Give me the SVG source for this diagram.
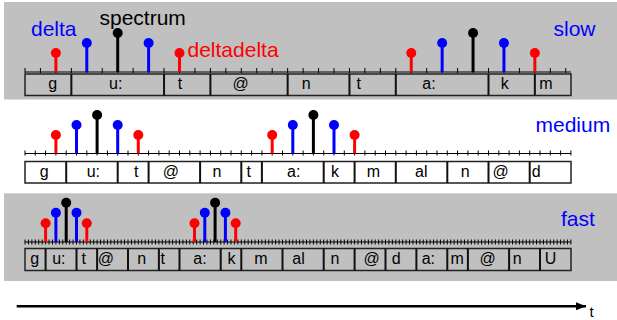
<svg xmlns="http://www.w3.org/2000/svg" width="617" height="320" viewBox="0 0 617 320">
  <defs>
    <style>
      .band { fill: #c0c0c0; }
      .axis { stroke: #000; stroke-width: 1; fill: none; }
      .tick { stroke: #000; fill: none; }
      .seg { fill: none; stroke: #222; stroke-width: 1.5; }
      .div { stroke: #111; stroke-width: 2; fill: none; }
      .ph { font-family: "Liberation Sans", Arial, sans-serif; font-size: 16px; fill: #000; text-anchor: middle; }
      .big { font-family: "Liberation Sans", Arial, sans-serif; font-size: 21px; }
      .blue { fill: #0000ff; }
      .red { fill: #ff0000; }
      .black { fill: #000; }
      .stem-r { stroke: #ff0000; stroke-width: 3; }
      .stem-b { stroke: #0000ff; stroke-width: 3; }
      .stem-k { stroke: #000; stroke-width: 3; }
    </style>
    <marker id="arrowHead" viewBox="0 0 10 8" refX="10" refY="4" markerWidth="10" markerHeight="8" markerUnits="userSpaceOnUse" orient="auto">
      <path d="M0,0 L10,4 L0,8 Z" fill="#000"/>
    </marker>
  </defs>

  <!-- background bands -->
  <rect class="band" x="4" y="2" width="613" height="97.5"/>
  <rect class="band" x="4" y="193.3" width="613" height="87.7"/>

  <!-- slow rate -->
  <g id="slow">
    <line class="axis" x1="25" y1="72" x2="571" y2="72"/>
    <line class="tick" x1="24.5" y1="70.5" x2="566.3" y2="70.5" stroke-width="5" stroke-dasharray="1 14.45"/>
    <rect class="seg" x="25" y="74" width="546" height="21.5"/>
    <path class="div" d="M71.35,74v21.5M164.05,74v21.5M210.4,74v21.5M287.65,74v21.5M349.45,74v21.5M395.8,74v21.5M488.5,74v21.5M534.85,74v21.5"/>
    <g class="ph">
      <text x="52.8" y="89">g</text>
      <text x="115.7" y="89">u:</text>
      <text x="180" y="89">t</text>
      <text x="240.7" y="89">@</text>
      <text x="306.3" y="89">n</text>
      <text x="358.8" y="89">t</text>
      <text x="429" y="89">a:</text>
      <text x="504.7" y="89">k</text>
      <text x="546" y="89">m</text>
    </g>
    <g id="slow-frame1">
      <line class="stem-r" x1="55.9" y1="53" x2="55.9" y2="72"/><circle class="red" cx="55.9" cy="53" r="5"/>
      <line class="stem-b" x1="86.8" y1="43" x2="86.8" y2="72"/><circle class="blue" cx="86.8" cy="43" r="5"/>
      <line class="stem-k" x1="117.7" y1="33" x2="117.7" y2="72"/><circle class="black" cx="117.7" cy="33" r="5"/>
      <line class="stem-b" x1="148.6" y1="43" x2="148.6" y2="72"/><circle class="blue" cx="148.6" cy="43" r="5"/>
      <line class="stem-r" x1="179.5" y1="53" x2="179.5" y2="72"/><circle class="red" cx="179.5" cy="53" r="5"/>
    </g>
    <g id="slow-frame2">
      <line class="stem-r" x1="411.25" y1="53" x2="411.25" y2="72"/><circle class="red" cx="411.25" cy="53" r="5"/>
      <line class="stem-b" x1="442.15" y1="43" x2="442.15" y2="72"/><circle class="blue" cx="442.15" cy="43" r="5"/>
      <line class="stem-k" x1="473.05" y1="33" x2="473.05" y2="72"/><circle class="black" cx="473.05" cy="33" r="5"/>
      <line class="stem-b" x1="503.95" y1="43" x2="503.95" y2="72"/><circle class="blue" cx="503.95" cy="43" r="5"/>
      <line class="stem-r" x1="534.85" y1="53" x2="534.85" y2="72"/><circle class="red" cx="534.85" cy="53" r="5"/>
    </g>
    <text class="big blue" x="31" y="36">delta</text>
    <text class="big black" x="99.5" y="24.5">spectrum</text>
    <text class="big red" x="187.5" y="57.3">deltadelta</text>
    <text class="big blue" x="553.5" y="36">slow</text>
  </g>

  <!-- medium rate -->
  <g id="medium">
    <line class="axis" x1="25" y1="153.5" x2="571" y2="153.5"/>
    <line class="tick" x1="24.5" y1="153" x2="571.4" y2="153" stroke-width="5" stroke-dasharray="1 9.3"/>
    <rect class="seg" x="25" y="161.5" width="546" height="21.5"/>
    <path class="div" d="M66.2,161.5v21.5M117.7,161.5v21.5M148.6,161.5v21.5M200.1,161.5v21.5M241.3,161.5v21.5M261.9,161.5v21.5M323.7,161.5v21.5M354.6,161.5v21.5M395.8,161.5v21.5M447.3,161.5v21.5M488.5,161.5v21.5M529.7,161.5v21.5"/>
    <g class="ph">
      <text x="44.2" y="176.5">g</text>
      <text x="93.3" y="176.5">u:</text>
      <text x="136.2" y="176.5">t</text>
      <text x="170.8" y="176.5">@</text>
      <text x="217" y="176.5">n</text>
      <text x="248.7" y="176.5">t</text>
      <text x="293.7" y="176.5">a:</text>
      <text x="335" y="176.5">k</text>
      <text x="373.5" y="176.5">m</text>
      <text x="421.3" y="176.5">al</text>
      <text x="465.3" y="176.5">n</text>
      <text x="500.7" y="176.5">@</text>
      <text x="536.2" y="176.5">d</text>
    </g>
    <g id="medium-frame1">
      <line class="stem-r" x1="55.9" y1="135" x2="55.9" y2="153.5"/><circle class="red" cx="55.9" cy="135" r="5"/>
      <line class="stem-b" x1="76.5" y1="125" x2="76.5" y2="153.5"/><circle class="blue" cx="76.5" cy="125" r="5"/>
      <line class="stem-k" x1="97.1" y1="115" x2="97.1" y2="153.5"/><circle class="black" cx="97.1" cy="115" r="5"/>
      <line class="stem-b" x1="117.7" y1="125" x2="117.7" y2="153.5"/><circle class="blue" cx="117.7" cy="125" r="5"/>
      <line class="stem-r" x1="138.3" y1="135" x2="138.3" y2="153.5"/><circle class="red" cx="138.3" cy="135" r="5"/>
    </g>
    <g id="medium-frame2">
      <line class="stem-r" x1="272.2" y1="135" x2="272.2" y2="153.5"/><circle class="red" cx="272.2" cy="135" r="5"/>
      <line class="stem-b" x1="292.8" y1="125" x2="292.8" y2="153.5"/><circle class="blue" cx="292.8" cy="125" r="5"/>
      <line class="stem-k" x1="313.4" y1="115" x2="313.4" y2="153.5"/><circle class="black" cx="313.4" cy="115" r="5"/>
      <line class="stem-b" x1="334" y1="125" x2="334" y2="153.5"/><circle class="blue" cx="334" cy="125" r="5"/>
      <line class="stem-r" x1="354.6" y1="135" x2="354.6" y2="153.5"/><circle class="red" cx="354.6" cy="135" r="5"/>
    </g>
    <text class="big blue" x="535.5" y="132">medium</text>
  </g>

  <!-- fast rate -->
  <g id="fast">
    <line class="axis" x1="25" y1="242" x2="571" y2="242"/>
    <line class="tick" x1="24.5" y1="242" x2="571.4" y2="242" stroke-width="5" stroke-dasharray="1 2.4333"/>
    <rect class="seg" x="25" y="248.5" width="546" height="22"/>
    <path class="div" d="M45.6,248.5v22M76.5,248.5v22M97.1,248.5v22M128,248.5v22M158.9,248.5v22M179.5,248.5v22M220.7,248.5v22M241.3,248.5v22M282.5,248.5v22M323.7,248.5v22M354.6,248.5v22M385.5,248.5v22M416.4,248.5v22M447.3,248.5v22M467.9,248.5v22M509.1,248.5v22M540,248.5v22"/>
    <g class="ph">
      <text x="34.7" y="264">g</text>
      <text x="58.8" y="264">u:</text>
      <text x="83.8" y="264">t</text>
      <text x="105.8" y="264">@</text>
      <text x="141.7" y="264">n</text>
      <text x="162.8" y="264">t</text>
      <text x="200" y="264">a:</text>
      <text x="231.5" y="264">k</text>
      <text x="260.8" y="264">m</text>
      <text x="298.5" y="264">al</text>
      <text x="335" y="264">n</text>
      <text x="371.7" y="264">@</text>
      <text x="396.3" y="264">d</text>
      <text x="428.3" y="264">a:</text>
      <text x="457.2" y="264">m</text>
      <text x="487.7" y="264">@</text>
      <text x="517.2" y="264">n</text>
      <text x="550.5" y="264">U</text>
    </g>
    <g id="fast-frame1">
      <line class="stem-r" x1="45.6" y1="223.3" x2="45.6" y2="242"/><circle class="red" cx="45.6" cy="223.3" r="5"/>
      <line class="stem-b" x1="55.9" y1="212.7" x2="55.9" y2="242"/><circle class="blue" cx="55.9" cy="212.7" r="5"/>
      <line class="stem-k" x1="66.2" y1="202.7" x2="66.2" y2="242"/><circle class="black" cx="66.2" cy="202.7" r="5"/>
      <line class="stem-b" x1="76.5" y1="212.7" x2="76.5" y2="242"/><circle class="blue" cx="76.5" cy="212.7" r="5"/>
      <line class="stem-r" x1="86.8" y1="223.3" x2="86.8" y2="242"/><circle class="red" cx="86.8" cy="223.3" r="5"/>
    </g>
    <g id="fast-frame2">
      <line class="stem-r" x1="194.5" y1="223.3" x2="194.5" y2="242"/><circle class="red" cx="194.5" cy="223.3" r="5"/>
      <line class="stem-b" x1="204.8" y1="212.7" x2="204.8" y2="242"/><circle class="blue" cx="204.8" cy="212.7" r="5"/>
      <line class="stem-k" x1="215.1" y1="202.7" x2="215.1" y2="242"/><circle class="black" cx="215.1" cy="202.7" r="5"/>
      <line class="stem-b" x1="225.4" y1="212.7" x2="225.4" y2="242"/><circle class="blue" cx="225.4" cy="212.7" r="5"/>
      <line class="stem-r" x1="235.7" y1="223.3" x2="235.7" y2="242"/><circle class="red" cx="235.7" cy="223.3" r="5"/>
    </g>
    <text class="big blue" x="561" y="226">fast</text>
  </g>

  <!-- time axis -->
  <g id="time-axis">
    <line x1="16.7" y1="306.3" x2="586" y2="306.3" stroke="#000" stroke-width="2.5" marker-end="url(#arrowHead)"/>
    <text x="589.5" y="316.7" font-family="Liberation Sans, Arial, sans-serif" font-size="15" fill="#000">t</text>
  </g>
</svg>
